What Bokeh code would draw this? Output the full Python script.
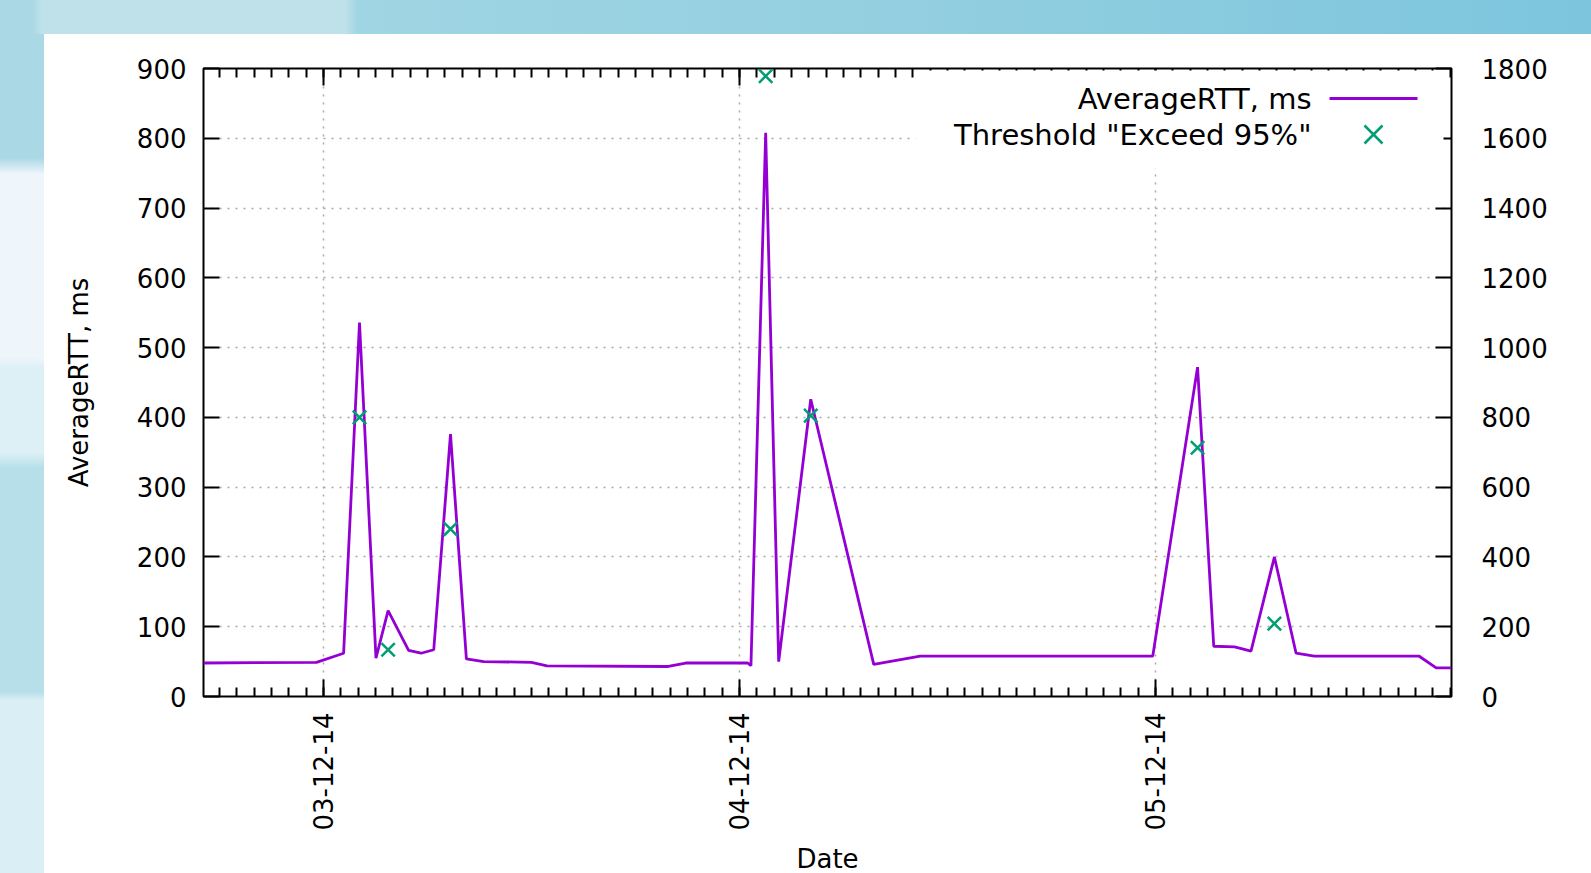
import math
import pandas as pd
from bokeh.plotting import figure
from bokeh.models import (ColumnDataSource, Range1d, LinearAxis, DatetimeAxis, FixedTicker,
                          DatetimeTickFormatter, Label, Arrow, BoxAnnotation)
from bokeh.embed import file_html
from bokeh.resources import INLINE

# ---------------- data ----------------
rtt_times = [
    "2014-12-02 17:05", "2014-12-02 23:36", "2014-12-03 01:10", "2014-12-03 02:05",
    "2014-12-03 03:02", "2014-12-03 03:44", "2014-12-03 04:55", "2014-12-03 05:38",
    "2014-12-03 06:22", "2014-12-03 07:20", "2014-12-03 08:15", "2014-12-03 09:15",
    "2014-12-03 12:00", "2014-12-03 12:54", "2014-12-03 19:54", "2014-12-03 20:54",
    "2014-12-04 00:29", "2014-12-04 00:40", "2014-12-04 01:31", "2014-12-04 02:16",
    "2014-12-04 04:07", "2014-12-04 07:45", "2014-12-04 10:26", "2014-12-04 23:51",
    "2014-12-05 02:26", "2014-12-05 03:22", "2014-12-05 04:34", "2014-12-05 05:31",
    "2014-12-05 06:52", "2014-12-05 08:07", "2014-12-05 09:10", "2014-12-05 15:12",
    "2014-12-05 16:12", "2014-12-05 17:05",
]
rtt_values = [
    48, 49, 62, 536,
    55, 123, 66, 62,
    67, 376, 54, 50,
    49, 44, 43, 48,
    48, 44, 808, 50,
    426, 46, 58, 58,
    472, 72, 71, 65,
    200, 62, 58, 58,
    41, 41,
]
threshold_times = [
    "2014-12-03 02:05", "2014-12-03 03:44", "2014-12-03 07:20", "2014-12-04 01:31",
    "2014-12-04 04:07", "2014-12-05 02:26", "2014-12-05 06:52",
]
threshold_values = [800, 134, 480, 1778, 805, 713, 209]

x_day_ticks = ["2014-12-03", "2014-12-04", "2014-12-05"]
x_start = "2014-12-02 17:05"
x_end = "2014-12-05 17:05"
y_left_ticks = [0, 100, 200, 300, 400, 500, 600, 700, 800, 900]
y_right_ticks = [0, 200, 400, 600, 800, 1000, 1200, 1400, 1600, 1800]
series_names = ["AverageRTT, ms", 'Threshold "Exceed 95%"']
x_title = "Date"
y_title = "AverageRTT, ms"

# ---------------- styles ----------------
RTT_COLOR = "#9400D3"
THR_COLOR = "#009E73"
FONT = "DejaVu Sans"
GRID_COLOR = "#a8a8a8"


def to_ms(values):
    idx = pd.to_datetime(pd.Index(values))
    return ((idx - pd.Timestamp("1970-01-01")) // pd.Timedelta(milliseconds=1)).astype(float).tolist()


day_ms = to_ms(x_day_ticks)
x0, x1 = to_ms([x_start, x_end])
hour_ms = to_ms(list(pd.date_range(pd.Timestamp(x_start).floor("h"), x_end, freq="h")))

rtt_src = ColumnDataSource(dict(t=to_ms(rtt_times), v=rtt_values))
thr_src = ColumnDataSource(dict(t=to_ms(threshold_times), v=threshold_values))

p = figure(
    x_axis_type="datetime",
    frame_width=1248, frame_height=628,
    min_border_left=203, min_border_right=140, min_border_top=68, min_border_bottom=177,
    x_range=Range1d(x0, x1), y_range=Range1d(0, 900),
    output_backend="svg", toolbar_location=None,
    border_fill_color=None, background_fill_color="white",
    outline_line_color="black", outline_line_width=2,
)
p.extra_y_ranges = {"y2": Range1d(0, 1800)}

p.styles = {
    "background": (
        "linear-gradient(#ffffff, #ffffff) 44px 34px / calc(100% - 44px) calc(100% - 34px) no-repeat, "
        "linear-gradient(to right, #aad8e4 0px, #aad8e4 32px, #bfe2ea 42px, #bfe2ea 345px, "
        "#a0d5e3 358px, #93cfe0 900px, #7cc5dd 100%) 0 0 / 100% 34px no-repeat, "
        "linear-gradient(to bottom, #aad8e5 0px, #aad8e5 158px, #eef5fb 174px, #eef5fb 358px, "
        "#dcf0f5 368px, #dcf0f5 453px, #b6dfea 468px, #b6dfea 692px, #d9eef5 700px, #d9eef5 100%) "
        "0 0 / 44px 100% no-repeat"
    )
}

# grid
p.xgrid.ticker = FixedTicker(ticks=day_ms)
p.ygrid.ticker = FixedTicker(ticks=y_left_ticks)
for g in (p.xgrid[0], p.ygrid[0]):
    g.grid_line_color = GRID_COLOR
    g.grid_line_dash = "2 6"
    g.grid_line_width = 1.5

date_fmt = DatetimeTickFormatter(
    microseconds="%d-%m-%y", milliseconds="%d-%m-%y", seconds="%d-%m-%y",
    minsec="%d-%m-%y", minutes="%d-%m-%y", hourmin="%d-%m-%y", hours="%d-%m-%y",
    days="%d-%m-%y", months="%d-%m-%y", years="%d-%m-%y", context=None,
)

# bottom axis
xa = p.xaxis[0]
xa.ticker = FixedTicker(ticks=day_ms, minor_ticks=hour_ms)
xa.formatter = date_fmt
xa.major_label_orientation = math.pi / 2
xa.axis_line_color = None
xa.major_tick_in = 17
xa.major_tick_out = 0
xa.minor_tick_in = 9
xa.minor_tick_out = 0
xa.major_tick_line_width = 2
xa.minor_tick_line_width = 2
xa.major_tick_line_color = "black"
xa.minor_tick_line_color = "black"
xa.major_label_text_font = FONT
xa.major_label_text_font_size = "26px"
xa.major_label_text_color = "black"
xa.major_label_standoff = 16
xa.axis_label = x_title
xa.axis_label_text_font = FONT
xa.axis_label_text_font_size = "26px"
xa.axis_label_text_font_style = "normal"
xa.axis_label_text_color = "black"
xa.axis_label_standoff = 10

# top mirror axis
ta = DatetimeAxis(ticker=FixedTicker(ticks=day_ms, minor_ticks=hour_ms), formatter=date_fmt)
ta.axis_line_color = None
ta.major_tick_in = 17
ta.major_tick_out = 0
ta.minor_tick_in = 9
ta.minor_tick_out = 0
ta.major_tick_line_width = 2
ta.minor_tick_line_width = 2
ta.major_label_text_alpha = 0
ta.major_label_text_font_size = "1px"
p.add_layout(ta, "above")

# left axis
ya = p.yaxis[0]
ya.ticker = FixedTicker(ticks=y_left_ticks, minor_ticks=[])
ya.axis_line_color = None
ya.major_tick_in = 16
ya.major_tick_out = 0
ya.minor_tick_line_color = None
ya.major_tick_line_width = 2
ya.major_label_text_font = FONT
ya.major_label_text_font_size = "26px"
ya.major_label_text_color = "black"
ya.major_label_standoff = 17
ya.axis_label = y_title
ya.axis_label_text_font = FONT
ya.axis_label_text_font_size = "26px"
ya.axis_label_text_font_style = "normal"
ya.axis_label_text_color = "black"
ya.axis_label_standoff = 40

# right axis
ra = LinearAxis(y_range_name="y2", ticker=FixedTicker(ticks=y_right_ticks, minor_ticks=[]))
ra.axis_line_color = None
ra.major_tick_in = 16
ra.major_tick_out = 0
ra.minor_tick_line_color = None
ra.major_tick_line_width = 2
ra.major_label_text_font = FONT
ra.major_label_text_font_size = "26px"
ra.major_label_text_color = "black"
ra.major_label_standoff = 30
p.add_layout(ra, "right")

# data
p.line(x="t", y="v", source=rtt_src, line_color=RTT_COLOR, line_width=2.8)
p.scatter(x="t", y="v", source=thr_src, y_range_name="y2", marker="x", size=19,
          line_color=THR_COLOR, line_width=2.5)

# legend (gnuplot style: text then sample)
p.add_layout(BoxAnnotation(left=712, right=1240, bottom=528, top=626,
                           left_units="screen", right_units="screen",
                           bottom_units="screen", top_units="screen",
                           fill_color="white", fill_alpha=1.0, line_color=None))
for name, ly in zip(series_names, [598, 562]):
    p.add_layout(Label(x=1108, y=ly, x_units="screen", y_units="screen", text=name,
                       text_align="right", text_baseline="middle", text_font=FONT,
                       text_font_size="29px", text_color="black"))
p.add_layout(Arrow(end=None, x_start=1126, y_start=598, x_end=1214, y_end=598,
                   start_units="screen", end_units="screen",
                   line_color=RTT_COLOR, line_width=2.8))
for (xs, ys, xe, ye) in [(1161, 553, 1179, 571), (1161, 571, 1179, 553)]:
    p.add_layout(Arrow(end=None, x_start=xs, y_start=ys, x_end=xe, y_end=ye,
                       start_units="screen", end_units="screen",
                       line_color=THR_COLOR, line_width=2.5))

open("out.html", "w").write(file_html(p, INLINE))
